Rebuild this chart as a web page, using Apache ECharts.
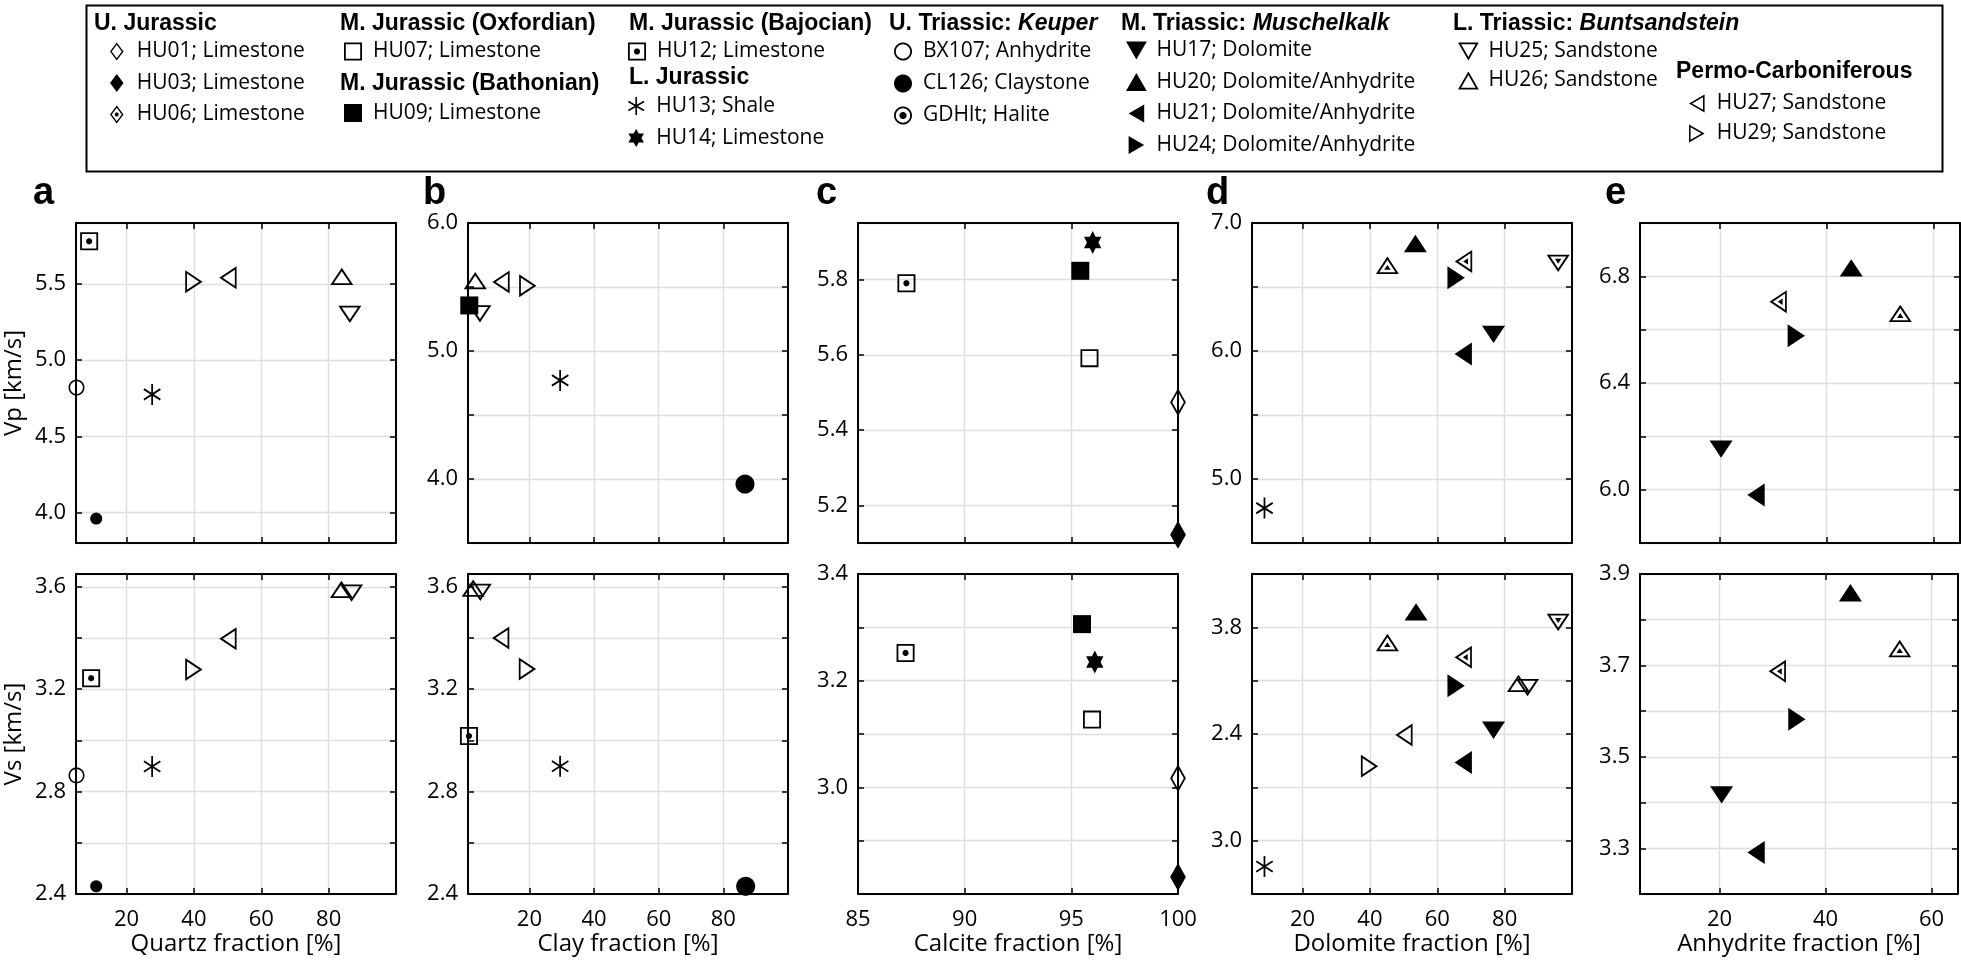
<!DOCTYPE html>
<html><head><meta charset="utf-8">
<script src="https://cdn.jsdelivr.net/npm/echarts@6/dist/echarts.min.js"></script>
<style>html,body{margin:0;padding:0;background:#fff}#c{width:1961px;height:966px}</style>
</head><body><div id="c"></div>
<script>
// ---------------- DATA (sample, mineral fraction %, velocity km/s) ----------------
const quartzVp = [['HU12',8.9,5.78],['HU29',40.0,5.515],['HU27',50.1,5.54],['HU26',83.9,5.55],['HU25',86.3,5.30],['BX107',5.15,4.82],['HU13',27.6,4.775],['CL126',11.0,3.96]];
const quartzVs = [['HU26',83.8,3.59],['HU25',86.8,3.575],['HU27',50.1,3.397],['HU29',40.0,3.277],['HU12',9.5,3.243],['HU13',27.6,2.898],['BX107',5.15,2.863],['CL126',11.0,2.43]];
const clayVp = [['HU26',3.25,5.55],['HU27',11.2,5.54],['HU29',19.5,5.51],['HU09',1.4,5.356],['HU25',4.7,5.29],['HU13',29.5,4.77],['CL126',86.7,3.96]];
const clayVs = [['HU26',2.6,3.595],['HU25',4.8,3.578],['HU27',11.1,3.40],['HU29',19.4,3.279],['HU12',1.3,3.017],['HU13',29.5,2.899],['CL126',86.9,2.43]];
const calciteVp = [['HU12',87.27,5.79],['HU14',96.0,5.898],['HU09',95.42,5.823],['HU07',95.85,5.591],['HU01',100,5.474],['HU03',100,5.122]];
const calciteVs = [['HU12',87.23,3.252],['HU09',95.5,3.306],['HU14',96.1,3.235],['HU07',95.97,3.127],['HU01',100,3.017],['HU03',100,2.832]];
const dolomiteVp = [['dotUp',45.2,6.67],['HU20',53.5,6.84],['dotLeft',67.8,6.70],['HU24',65.6,6.573],['dotDown',95.9,6.685],['HU17',76.7,6.13],['HU21',67.7,5.977],['HU13',8.7,4.773]];
const dolomiteVs = [['HU20',53.7,3.858],['dotUp',45.2,3.743],['dotDown',95.9,3.818],['dotLeft',67.7,3.688],['HU24',65.6,3.581],['HU26',84.1,3.59],['HU25',86.8,3.574],['HU17',76.7,3.414],['HU27',50.1,3.396],['HU21',67.7,3.293],['HU29',39.9,3.279],['HU13',8.7,2.903]];
const anhydriteVp = [['HU20',44.6,6.832],['dotLeft',30.9,6.705],['dotUp',53.8,6.661],['HU24',34.3,6.577],['HU17',20.2,6.152],['HU21',26.75,5.98]];
const anhydriteVs = [['HU20',44.7,3.859],['dotUp',54.0,3.737],['dotLeft',30.9,3.687],['HU24',34.6,3.582],['HU17',20.4,3.417],['HU21',26.9,3.291]];

// tick labels
const fracTicks = [20,40,60,80];
const calciteTicks = [85,90,95,100];
const anhydriteTicks = [20,40,60];
const vpTicksA = [4.0,4.5,5.0,5.5];
const vsTicksAB = [2.4,2.8,3.2,3.6];
const vpTicksB = [4.0,5.0,6.0];
const vpTicksC = [5.2,5.4,5.6,5.8];
const vsTicksC = [3.0,3.2,3.4];
const vpTicksD = [5.0,6.0,7.0];
const vsTicksD = [3.8,3.4,3.0];
const vsTickTextD = ['3.8','2.4','3.0'];
const vpTicksE = [6.0,6.4,6.8];
const vsTicksE = [3.3,3.5,3.7,3.9];

// legend text
const sampleNames = ['HU01','HU03','HU06','HU07','HU09','HU12','HU13','HU14','BX107','CL126','GDHlt','HU17','HU20','HU21','HU24','HU25','HU26','HU27','HU29'];
const lithology = ['Limestone','Limestone','Limestone','Limestone','Limestone','Limestone','Shale','Limestone','Anhydrite','Claystone','Halite','Dolomite','Dolomite/Anhydrite','Dolomite/Anhydrite','Dolomite/Anhydrite','Sandstone','Sandstone','Sandstone','Sandstone'];

// ---------------- MARKER SHAPES ----------------
const P = pts => 'M' + pts.map(p => p[0].toFixed(2) + ' ' + p[1].toFixed(2)).join(' L') + ' Z';
const scl = (pts, c, k) => pts.map(p => [c[0] + (p[0]-c[0])*k, c[1] + (p[1]-c[1])*k]);
const ring = (pts, c, k) => P(pts) + ' ' + P(scl(pts, c, k).reverse());
const circ = (cx, cy, r, n) => Array.from({length:n}, (_, i) => [cx + r*Math.cos(2*Math.PI*i/n), cy + r*Math.sin(2*Math.PI*i/n)]);
const TRI = {
  up:{pts:[[50,0],[100,86.6],[0,86.6]], c:[50,57.74], size:[23,20]},
  down:{pts:[[0,0],[100,0],[50,86.6]], c:[50,28.87], size:[23,20]},
  left:{pts:[[0,50],[86.6,0],[86.6,100]], c:[57.74,50], size:[20,23]},
  right:{pts:[[0,0],[86.6,50],[0,100]], c:[28.87,50], size:[20,23]}
};
const tri = (d, kind) => {
  const t = TRI[d];
  let path = kind === 'fill' ? P(t.pts) : ring(t.pts, t.c, 0.70);
  if (kind === 'dot') path += ' ' + P(scl(t.pts, t.c, 0.28));
  return {symbol:'path://' + path, size:t.size};
};
const SQ = [[0,0],[100,0],[100,100],[0,100]];
const DI = [[37.5,0],[75,50],[37.5,100],[0,50]];
const CI = circ(50,50,50,40);
const bar = (th) => { const a=50, w=4.6, d=[Math.cos(th),Math.sin(th)], n=[-Math.sin(th),Math.cos(th)];
  return P([[50+a*d[0]+w*n[0],50+a*d[1]+w*n[1]],[50+a*d[0]-w*n[0],50+a*d[1]-w*n[1]],[50-a*d[0]-w*n[0],50-a*d[1]-w*n[1]],[50-a*d[0]+w*n[0],50-a*d[1]+w*n[1]]]); };
const hexUp = [-90,30,150].map(a => [50+50*Math.cos(a*Math.PI/180), 50+50*Math.sin(a*Math.PI/180)]);
const hexDn = [90,210,330].map(a => [50+50*Math.cos(a*Math.PI/180), 50+50*Math.sin(a*Math.PI/180)]);
const markerStyle = {
  HU01:{symbol:'path://'+ring(DI,[37.5,50],0.74), size:[21,28]},
  HU03:{symbol:'path://'+P(DI), size:[21,28]},
  HU06:{symbol:'path://'+ring(DI,[37.5,50],0.74)+' '+P(circ(37.5,50,11,24)), size:[21,28]},
  HU07:{symbol:'path://'+ring(SQ,[50,50],0.80), size:[18,18]},
  HU09:{symbol:'path://'+P(SQ), size:[18,18]},
  HU12:{symbol:'path://'+ring(SQ,[50,50],0.80)+' '+P(circ(50,50,17,24)), size:[18,18]},
  HU13:{symbol:'path://'+bar(Math.PI/2)+' '+bar(Math.PI/6)+' '+bar(-Math.PI/6), size:[19,21]},
  HU14:{symbol:'path://'+P(hexUp)+' '+P(hexDn), size:[20,23]},
  BX107:{symbol:'path://'+ring(CI,[50,50],0.80), size:[16,16]},
  CL126:{symbol:'path://'+P(CI), size:[19,19]},
  GDHlt:{symbol:'path://'+ring(CI,[50,50],0.80)+' '+P(circ(50,50,20,24)), size:[16,16]},
  HU17:tri('down','fill'), HU20:tri('up','fill'), HU21:tri('left','fill'), HU24:tri('right','fill'),
  HU25:tri('down','open'), HU26:tri('up','open'), HU27:tri('left','open'), HU29:tri('right','open'),
  dotUp:tri('up','dot'), dotDown:tri('down','dot'), dotLeft:tri('left','dot')
};
const sizeOverride = {0:{CL126:[12,12]}, 1:{CL126:[12,12]}};

// ---------------- LAYOUT ----------------
const FONT = 'Open Sans';
const colLeft = [76, 468, 858, 1252, 1640];
const rowTop = [223, 574];
const panels = [
  {col:0,row:0,data:quartzVp,x:[5,100,20],y:[3.8,5.9,0.5],yl:vpTicksA,yName:'Vp [km/s]'},
  {col:0,row:1,data:quartzVs,x:[5,100,20],y:[2.4,3.65,0.2],xl:fracTicks,yl:vsTicksAB,xName:'Quartz fraction [%]',yName:'Vs [km/s]'},
  {col:1,row:0,data:clayVp,x:[1,100,20],y:[3.5,6.0,0.5],yl:vpTicksB},
  {col:1,row:1,data:clayVs,x:[1,100,20],y:[2.4,3.65,0.2],xl:fracTicks,yl:vsTicksAB,xName:'Clay fraction [%]'},
  {col:2,row:0,data:calciteVp,x:[85,100,5],y:[5.1,5.95,0.2],yl:vpTicksC},
  {col:2,row:1,data:calciteVs,x:[85,100,5],y:[2.8,3.4,0.1],xl:calciteTicks,yl:vsTicksC,xName:'Calcite fraction [%]'},
  {col:3,row:0,data:dolomiteVp,x:[5,100,20],y:[4.5,7.0,0.5],yl:vpTicksD},
  {col:3,row:1,data:dolomiteVs,x:[5,100,20],y:[2.8,4.0,0.2],xl:fracTicks,yl:vsTicksD,ylText:vsTickTextD,xName:'Dolomite fraction [%]'},
  {col:4,row:0,data:anhydriteVp,x:[5,65,20],y:[5.8,7.0,0.2],yl:vpTicksE},
  {col:4,row:1,data:anhydriteVs,x:[5,65,20],y:[3.2,3.9,0.1],xl:anhydriteTicks,yl:vsTicksE,xName:'Anhydrite fraction [%]'}
];

const fmtFactory = (vals, texts, dec) => v => {
  if (!vals) return '';
  for (let i = 0; i < vals.length; i++) if (Math.abs(v - vals[i]) < 1e-6) return texts ? texts[i] : vals[i].toFixed(dec);
  return '';
};
const lineBlack = {show:true, lineStyle:{color:'#000', width:2}};
const tickIn = {show:true, inside:true, length:6, lineStyle:{color:'#000', width:1.5}};
const grids = [], xAxes = [], yAxes = [], series = [];
const mkSeries = (nm, i, data) => {
  const st = markerStyle[nm];
  return {type:'scatter', name:nm, xAxisIndex:2*i, yAxisIndex:2*i, clip:false,
    symbol:st.symbol, symbolSize:(sizeOverride[i] && sizeOverride[i][nm]) || st.size, symbolKeepAspect:true,
    itemStyle:{color:'#000', borderWidth:0, opacity:1}, emphasis:{disabled:true}, data:data};
};
panels.forEach((p, i) => {
  grids.push({left:colLeft[p.col], top:rowTop[p.row], width:320, height:320, containLabel:false});
  const xb = {type:'value', gridIndex:i, min:p.x[0], max:p.x[1], minInterval:p.x[2], maxInterval:p.x[2], splitNumber:5};
  const yb = {type:'value', gridIndex:i, min:p.y[0], max:p.y[1], minInterval:p.y[2], maxInterval:p.y[2], splitNumber:6};
  xAxes.push(Object.assign({}, xb, {position:'bottom', axisLine:lineBlack, axisTick:tickIn,
    splitLine:{show:true, lineStyle:{color:'#dedede', width:1.4}},
    axisLabel:{show:!!p.xl, formatter:fmtFactory(p.xl, null, 0), color:'#000', fontSize:22, fontFamily:FONT, margin:15, showMinLabel:true, showMaxLabel:true},
    name:p.xName || '', nameLocation:'middle', nameGap:37, nameTextStyle:{color:'#000', fontSize:24, fontFamily:FONT}}));
  xAxes.push(Object.assign({}, xb, {position:'top', axisLine:lineBlack, axisTick:tickIn, splitLine:{show:false}, axisLabel:{show:false}}));
  yAxes.push(Object.assign({}, yb, {position:'left', axisLine:lineBlack, axisTick:tickIn,
    splitLine:{show:true, lineStyle:{color:'#dedede', width:1.4}},
    axisLabel:{formatter:fmtFactory(p.yl, p.ylText, 1), color:'#000', fontSize:22, fontFamily:FONT, margin:10, showMinLabel:true, showMaxLabel:true},
    name:p.yName || '', nameLocation:'middle', nameGap:50, nameTextStyle:{color:'#000', fontSize:24, fontFamily:FONT}}));
  yAxes.push(Object.assign({}, yb, {position:'right', axisLine:lineBlack, axisTick:tickIn, splitLine:{show:false}, axisLabel:{show:false}}));
  const names = [...new Set(p.data.map(d => d[0]))];
  names.forEach(nm => series.push(mkSeries(nm, i, p.data.filter(d => d[0] === nm).map(d => [d[1], d[2]]))));
});
// samples listed in the legend but not plotted in any panel
['HU06','GDHlt'].forEach(nm => series.push(mkSeries(nm, 0, [])));

// legends
const legendGroups = [
  {names:['HU01','HU03','HU06'], left:110, top:41, gap:10.5},
  {names:['HU07'], left:344, top:41, gap:10.5},
  {names:['HU09'], left:344, top:102.5, gap:10.5},
  {names:['HU12'], left:628, top:41, gap:10.5},
  {names:['HU13','HU14'], left:628, top:95.5, gap:11},
  {names:['BX107','CL126','GDHlt'], left:894, top:41, gap:11},
  {names:['HU17','HU20','HU21','HU24'], left:1126, top:40, gap:10.5},
  {names:['HU25','HU26'], left:1458, top:41, gap:8},
  {names:['HU27','HU29'], left:1689, top:93, gap:9}
];
const legends = legendGroups.map(g => ({
  orient:'vertical', left:g.left, top:g.top, padding:0, itemGap:g.gap, itemWidth:30, itemHeight:18,
  selectedMode:false, data:g.names,
  formatter: nm => nm + '; ' + lithology[sampleNames.indexOf(nm)],
  textStyle:{color:'#000', fontSize:21, fontFamily:FONT, lineHeight:21}
}));

const head = (text, left, y) => ({type:'text', left:left, top:y - 11, style:{text:text, fill:'#000',
  font:'bold 23px "Liberation Sans"', rich:{b:{fontFamily:'Liberation Sans', fontWeight:'bold', fontSize:23}, i:{fontFamily:'Liberation Sans', fontWeight:'bold', fontStyle:'italic', fontSize:23}}}});
const letter = (t, left) => ({type:'text', left:left, top:175, style:{text:t, fill:'#000', font:'bold 38px "Liberation Sans"'}});
const graphic = [
  {type:'rect', left:84, top:3, shape:{width:1856, height:166}, style:{fill:'none', stroke:'#000', lineWidth:2}},
  head('U. Jurassic', 94, 23),
  head('M. Jurassic (Oxfordian)', 340, 23),
  head('M. Jurassic (Bathonian)', 340, 83),
  head('M. Jurassic (Bajocian)', 629, 23),
  head('L. Jurassic', 629, 77),
  head('{b|U. Triassic: }{i|Keuper}', 889, 23),
  head('{b|M. Triassic: }{i|Muschelkalk}', 1121, 23),
  head('{b|L. Triassic: }{i|Buntsandstein}', 1453, 23),
  head('Permo-Carboniferous', 1676, 71),
  letter('a', 33), letter('b', 423), letter('c', 816), letter('d', 1206), letter('e', 1605)
];

const chart = echarts.init(document.getElementById('c'), null, {renderer:'canvas'});
chart.setOption({animation:false, backgroundColor:'#fff', grid:grids, xAxis:xAxes, yAxis:yAxes, legend:legends, graphic:graphic, series:series});
</script></body></html>
